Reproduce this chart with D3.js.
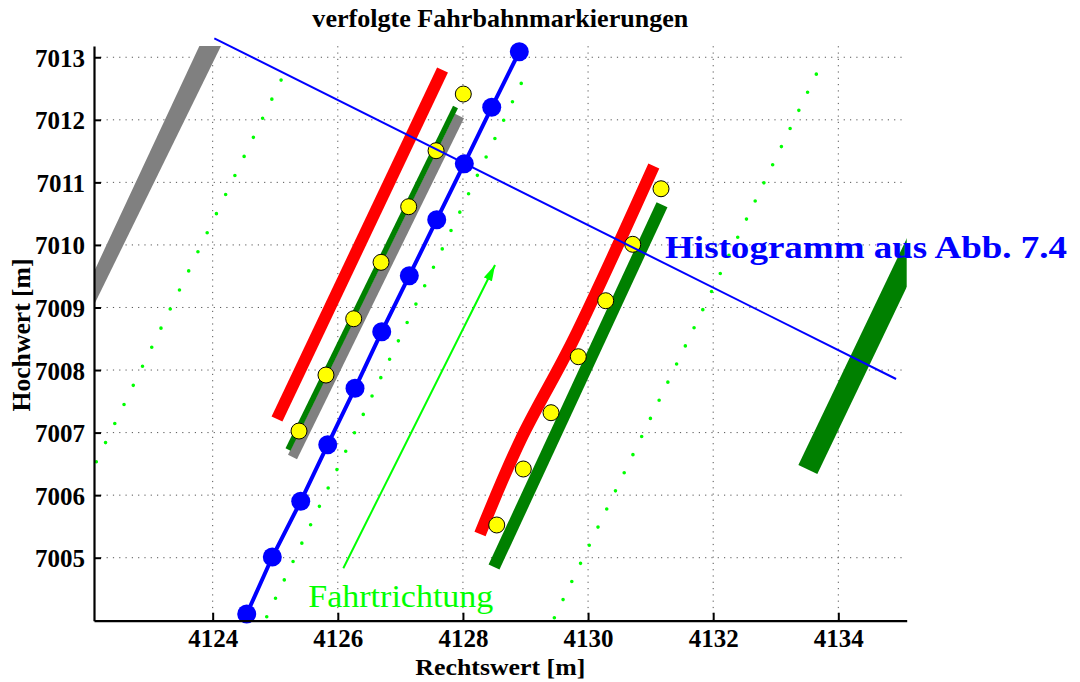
<!DOCTYPE html>
<html>
<head>
<meta charset="utf-8">
<script src="https://cdn.jsdelivr.net/npm/d3@7"></script>
<style>
  body { margin: 0; background: #fff; }
  text { font-family: "Liberation Serif", "Times New Roman", serif; }
</style>
</head>
<body>
<svg id="chart" width="1080" height="682"></svg>
<script>
let width = 1080, height = 682;
let plot = { left: 94, right: 906.7, top: 46, bottom: 620.7 };

let xTicks = [4124, 4126, 4128, 4130, 4132, 4134];
let yTicks = [7005, 7006, 7007, 7008, 7009, 7010, 7011, 7012, 7013];

// tracked marker centres (blue, joined)
let bluePoints = [
  [4124.544, 7004.100], [4124.953, 7005.011], [4125.407, 7005.902], [4125.839, 7006.806],
  [4126.275, 7007.708], [4126.702, 7008.613], [4127.143, 7009.508], [4127.581, 7010.403],
  [4128.022, 7011.298], [4128.460, 7012.200], [4128.901, 7013.088]
];
// yellow points
let yellowLeft = [
  [4125.380, 7007.025], [4125.811, 7007.920], [4126.254, 7008.820], [4126.691, 7009.722],
  [4127.133, 7010.611], [4127.570, 7011.506], [4128.006, 7012.412]
];
let yellowRight = [
  [4128.540, 7005.523], [4128.965, 7006.418], [4129.408, 7007.318], [4129.844, 7008.213],
  [4130.282, 7009.108], [4130.714, 7010.010], [4131.166, 7010.898]
];

// lane markings (centre lines)
let grayLeft = [[4125.276, 7006.610], [4127.945, 7012.060]];
let greenLeft = [[4125.204, 7006.730], [4127.881, 7012.204]];
let redLeft = [[4125.028, 7007.217], [4127.674, 7012.796]];
let redRight = [[4128.273, 7005.379], [4128.920, 7006.881], [4129.764, 7008.480], [4131.051, 7011.261]];
let greenRight = [[4128.497, 7004.851], [4131.182, 7010.643]];
let greenFar = [[4133.513, 7006.410], [4135.466, 7010.492]];
// gray marking top left (outline)
let grayFar = [[4123.906, 7013.435], [4124.258, 7013.435], [4121.879, 7008.584], [4121.879, 7009.092]];

// predicted trajectories (dotted)
let dottedLeft = [[4122.140, 7006.535], [4125.241, 7012.940]];
let dottedMid = [[4124.864, 7004.057], [4129.072, 7012.876]];
let dottedRight = [[4129.461, 7004.041], [4133.788, 7013.020]];
let dotSteps = [21, 30, 31];

let histLine = [[4124.026, 7013.302], [4134.923, 7007.857]];
let arrowLine = [[4126.088, 7004.831], [4128.513, 7009.679]];
let histLabel = { x: 4131.231, y: 7009.786, text: "Histogramm aus Abb. 7.4" };
let dirLabel = { x: 4125.529, y: 7004.217, text: "Fahrtrichtung" };

let svg = d3.select("#chart");

let x = d3.scaleLinear().domain([4122.103, 4135.093]).range([plot.left, plot.right]);
let y = d3.scaleLinear().domain([7003.993, 7013.18]).range([plot.bottom, plot.top]);

let line = d3.line().x(d => x(d[0])).y(d => y(d[1]));
let smooth = d3.line().x(d => x(d[0])).y(d => y(d[1])).curve(d3.curveCatmullRom);

svg.append("clipPath").attr("id", "clip")
  .append("rect")
  .attr("x", plot.left).attr("y", plot.top)
  .attr("width", plot.right - plot.left).attr("height", plot.bottom - plot.top);

// grid
let grid = svg.append("g").attr("stroke", "#555").attr("stroke-width", 1).attr("stroke-dasharray", "1.2,5.1");
xTicks.forEach(t => {
  grid.append("line").attr("x1", x(t)).attr("x2", x(t)).attr("y1", plot.bottom).attr("y2", plot.top);
});
yTicks.forEach(t => {
  grid.append("line").attr("y1", y(t)).attr("y2", y(t)).attr("x1", plot.left).attr("x2", plot.right);
});

let marks = svg.append("g").attr("clip-path", "url(#clip)");

marks.append("path").attr("d", line(grayFar) + "Z").attr("fill", "#808080");

function band(pts, color, w, gen) {
  marks.append("path").attr("d", (gen || line)(pts))
    .attr("fill", "none").attr("stroke", color).attr("stroke-width", w)
    .attr("stroke-linejoin", "round").attr("stroke-linecap", "butt");
}
band(grayLeft, "#808080", 10);
band(greenLeft, "#008000", 5.5);
band(redLeft, "#ff0000", 12);
band(redRight, "#ff0000", 12, smooth);
band(greenRight, "#008000", 12);
band(greenFar, "#008000", 21);

// dotted trajectories
[dottedLeft, dottedMid, dottedRight].forEach(function(pts, i) {
  let dx = x(pts[1][0]) - x(pts[0][0]);
  let dy = y(pts[1][1]) - y(pts[0][1]);
  let len = Math.sqrt(dx * dx + dy * dy);
  svg.append("path").attr("d", line(pts))
    .attr("fill", "none").attr("stroke", "#00ff00").attr("stroke-width", 3.6)
    .attr("stroke-linecap", "round")
    .attr("stroke-dasharray", "0," + (len / dotSteps[i]));
});

// direction arrow
svg.append("defs").append("marker")
  .attr("id", "head").attr("markerUnits", "userSpaceOnUse")
  .attr("viewBox", "0 0 16 10").attr("refX", 16).attr("refY", 5)
  .attr("markerWidth", 16).attr("markerHeight", 10).attr("orient", "auto")
  .append("path").attr("d", "M0,0.5L16,5L0,9.5Z").attr("fill", "#00ff00");

svg.append("path").attr("d", line(arrowLine))
  .attr("stroke", "#00ff00").attr("stroke-width", 2).attr("fill", "none")
  .attr("marker-end", "url(#head)");

// blue tracked line
svg.append("path").attr("d", line(bluePoints))
  .attr("fill", "none").attr("stroke", "#0000ff").attr("stroke-width", 4);
svg.selectAll(".blue").data(bluePoints).enter().append("circle")
  .attr("class", "blue")
  .attr("cx", d => x(d[0])).attr("cy", d => y(d[1])).attr("r", 9.5)
  .attr("fill", "#0000ff");

svg.selectAll(".yellow").data(yellowLeft.concat(yellowRight)).enter().append("circle")
  .attr("class", "yellow")
  .attr("cx", d => x(d[0])).attr("cy", d => y(d[1])).attr("r", 8)
  .attr("fill", "#ffff00").attr("stroke", "#000").attr("stroke-width", 1);

// histogram line
svg.append("path").attr("d", line(histLine))
  .attr("fill", "none").attr("stroke", "#0000ff").attr("stroke-width", 2);

// labels in the plot
svg.append("text")
  .attr("x", x(histLabel.x)).attr("y", y(histLabel.y))
  .attr("fill", "#0000ff").attr("font-weight", "bold").attr("font-size", 32)
  .attr("textLength", 402).attr("lengthAdjust", "spacingAndGlyphs")
  .text(histLabel.text);

svg.append("text")
  .attr("x", x(dirLabel.x)).attr("y", y(dirLabel.y))
  .attr("fill", "#00ff00").attr("font-size", 31)
  .attr("textLength", 185).attr("lengthAdjust", "spacingAndGlyphs")
  .text(dirLabel.text);

// axes
let xAxis = svg.append("g")
  .attr("transform", "translate(0," + plot.bottom + ")")
  .call(d3.axisBottom(x).tickValues(xTicks).tickFormat(d3.format("d"))
    .tickSizeInner(-8).tickSizeOuter(0).tickPadding(9));
let yAxis = svg.append("g")
  .attr("transform", "translate(" + plot.left + ",0)")
  .call(d3.axisLeft(y).tickValues(yTicks).tickFormat(d3.format("d"))
    .tickSizeInner(-7).tickSizeOuter(0).tickPadding(9));

[xAxis, yAxis].forEach(function(a) {
  a.select(".domain").attr("stroke", "#000").attr("stroke-width", 2.2);
  a.selectAll(".tick line").attr("stroke", "#000").attr("stroke-width", 2);
  a.selectAll(".tick text")
    .attr("fill", "#000")
    .style("font-family", "'Liberation Serif', 'Times New Roman', serif")
    .style("font-weight", "bold").style("font-size", "25px");
});
yAxis.selectAll(".tick text").attr("dy", "0.36em");

svg.append("text")
  .attr("x", (plot.left + plot.right) / 2).attr("y", 26.5)
  .attr("text-anchor", "middle").attr("font-weight", "bold").attr("font-size", 25)
  .attr("textLength", 376).attr("lengthAdjust", "spacingAndGlyphs")
  .text("verfolgte Fahrbahnmarkierungen");

svg.append("text")
  .attr("x", (plot.left + plot.right) / 2).attr("y", 675)
  .attr("text-anchor", "middle").attr("font-weight", "bold").attr("font-size", 24)
  .attr("textLength", 170).attr("lengthAdjust", "spacingAndGlyphs")
  .text("Rechtswert [m]");

svg.append("text")
  .attr("transform", "translate(30,335) rotate(-90)")
  .attr("text-anchor", "middle").attr("font-weight", "bold").attr("font-size", 25)
  .attr("textLength", 153).attr("lengthAdjust", "spacingAndGlyphs")
  .text("Hochwert [m]");
</script>
</body>
</html>
